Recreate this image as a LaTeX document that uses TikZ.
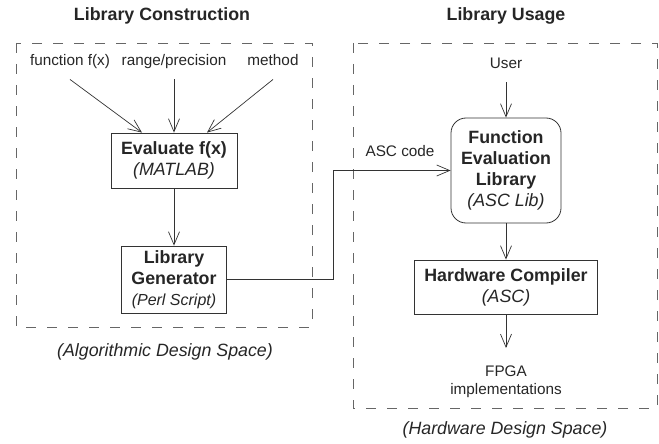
\documentclass[tikz,border=0pt]{standalone}
\usepackage{fontspec}
\setmainfont{Liberation Sans}
\usetikzlibrary{arrows.meta}
\definecolor{ink}{gray}{0.2}

\begin{document}
\begin{tikzpicture}[x=1pt, y=-1pt, color=ink, text=black!85,
  lbl/.style={font=\fontsize{15.3}{18}\selectfont, text height=11pt, text depth=3.5pt, inner xsep=0pt, inner ysep=10pt},
  box/.style={draw, line width=0.8pt, align=center, inner sep=0pt, font=\fontsize{17.8}{21}\selectfont},
  note/.style={font=\fontsize{17.8}{21}\selectfont\itshape},
  head/.style={font=\fontsize{17.8}{21}\selectfont\bfseries},
  zone/.style={draw=black!60, line width=0.8pt, dash pattern=on 10pt off 11pt},
  arr/.style={-{Straight Barb[length=13pt, width=11pt]}, line width=0.7pt}]
\useasboundingbox (0,0) rectangle (659,444);
\node[head] (t1) at (162,16) {Library Construction};
\node[head] (t2) at (506,16) {Library Usage};
\draw[zone] (16,43) rectangle (312,327);
\draw[zone] (353,43) rectangle (657,408);
\node[lbl] (in1) at (70,62) {function f(x)};
\node[lbl] (in2) at (174,62) {range/precision};
\node[lbl] (in3) at (273,62) {method};
\node[box, minimum width=126pt, minimum height=55pt] (eval) at (174,160.5) {\textbf{Evaluate f(x)}\\\textit{(MATLAB)}};
\node[box, minimum width=105pt, minimum height=67pt] (gen) at (174,279.5) {\textbf{Library}\\\textbf{Generator}\\{\fontsize{16}{20}\selectfont\itshape (Perl Script)}};
\node[lbl] (user) at (506,65) {User};
\node[box, rounded corners=15pt, minimum width=110pt, minimum height=105pt] (lib) at (506,170.5) {\textbf{Function}\\\textbf{Evaluation}\\\textbf{Library}\\\textit{(ASC Lib)}};
\node[box, minimum width=183pt, minimum height=54pt] (hw) at (506,287) {\textbf{Hardware Compiler}\\\textit{(ASC)}};
\node[font=\fontsize{15.3}{18}\selectfont, align=center, anchor=north, inner xsep=0pt, inner ysep=18pt] (fpga) at (506,348) {FPGA\\implementations};
\node[lbl] (code) at (400,153) {ASC code};
\node[note] (c1) at (165,352) {(Algorithmic Design Space)};
\node[note] (c2) at (505,430) {(Hardware Design Space)};
\draw[arr] (in1.south) -- ([xshift=-32pt]eval.north);
\draw[arr] (in2.south) -- (eval.north);
\draw[arr] (in3.south) -- ([xshift=33pt]eval.north);
\draw[arr] (eval) -- (gen);
\draw[arr] (gen.east) -- ++(106,0) |- (lib.west);
\draw[arr] (user) -- (lib);
\draw[arr] (lib) -- (hw);
\draw[arr] (hw) -- (fpga);
\end{tikzpicture}
\end{document}
